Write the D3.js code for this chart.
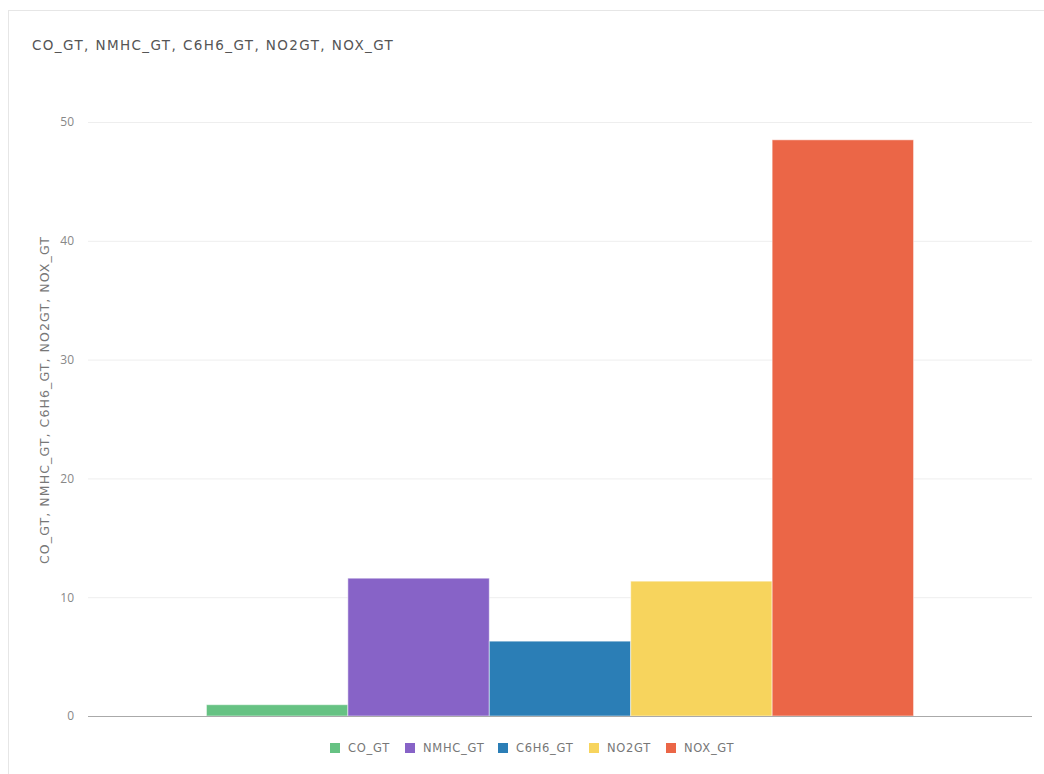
<!DOCTYPE html>
<html><head><meta charset="utf-8">
<script src="https://cdn.jsdelivr.net/npm/d3@7"></script>
<style>body{margin:0;background:#fff;font-family:"DejaVu Sans",sans-serif;}</style>
</head><body><svg id="c" width="1044" height="774"></svg>
<script>
const categories = ["all"];
const seriesNames = ["CO_GT", "NMHC_GT", "C6H6_GT", "NO2GT", "NOX_GT"];
const seriesValues = [0.95, 11.6, 6.3, 11.35, 48.5];
const seriesColors = ["#66c283", "#8763c7", "#2b7eb6", "#f7d45d", "#eb6647"];
const yTicks = [0, 10, 20, 30, 40, 50];
const titleText = "CO_GT, NMHC_GT, C6H6_GT, NO2GT, NOX_GT";

const svg = d3.select("#c");
svg.append("rect").attr("x", 8.5).attr("y", 10.5).attr("width", 1100).attr("height", 800)
  .attr("fill", "#fff").attr("stroke", "#e6e6e6");

const m = {l: 88, r: 1032, t: 122, b: 716};
const x0 = d3.scaleBand().domain(categories).range([m.l, m.r]).paddingInner(0).paddingOuter(0.1675);
const x1 = d3.scaleBand().domain(seriesNames).range([0, x0.bandwidth()]);
const y = d3.scaleLinear().domain([0, 50]).range([m.b, m.t]);

svg.append("text").attr("x", 32).attr("y", 50).attr("font-size", 13.5).attr("fill", "#555")
  .attr("font-family", "DejaVu Sans, sans-serif").attr("letter-spacing", 1.4).text(titleText);

const yAxis = svg.append("g").attr("transform", `translate(${m.l},0)`)
  .call(d3.axisLeft(y).tickValues(yTicks).tickSize(-(m.r - m.l)).tickPadding(14));
yAxis.select(".domain").remove();
yAxis.selectAll(".tick line").attr("stroke", "#eeeeee");
yAxis.selectAll(".tick text").attr("fill", "#888").attr("font-size", 12).attr("font-family", "Open Sans, sans-serif");

svg.append("text").attr("transform", `translate(49,400) rotate(-90)`).attr("text-anchor", "middle")
  .attr("font-family", "DejaVu Sans, sans-serif").attr("letter-spacing", 1.1)
  .attr("font-size", 12.5).attr("fill", "#777").text(titleText);

const g = svg.append("g");
categories.forEach(c => {
  g.selectAll(".bar").data(seriesValues).enter().append("rect")
    .attr("x", (d, i) => x0(c) + x1(seriesNames[i]))
    .attr("y", d => y(d))
    .attr("width", x1.bandwidth())
    .attr("height", d => y(0) - y(d))
    .attr("fill", (d, i) => seriesColors[i])
    .attr("stroke", "rgba(255,255,255,0.5)").attr("stroke-width", 1);
});

svg.append("line").attr("x1", m.l).attr("x2", m.r).attr("y1", m.b + 0.5).attr("y2", m.b + 0.5)
  .attr("stroke", "#aaa").attr("stroke-width", 1.2);

const legendX = [330, 405, 498, 589, 666];
const lg = svg.append("g");
seriesNames.forEach((s, i) => {
  lg.append("rect").attr("x", legendX[i]).attr("y", 743).attr("width", 10).attr("height", 10).attr("fill", seriesColors[i]);
  lg.append("text").attr("x", legendX[i] + 18).attr("y", 752).attr("font-size", 11.5)
    .attr("font-family", "DejaVu Sans, sans-serif").attr("letter-spacing", 0.7).attr("fill", "#777").text(s);
});
</script></body></html>
